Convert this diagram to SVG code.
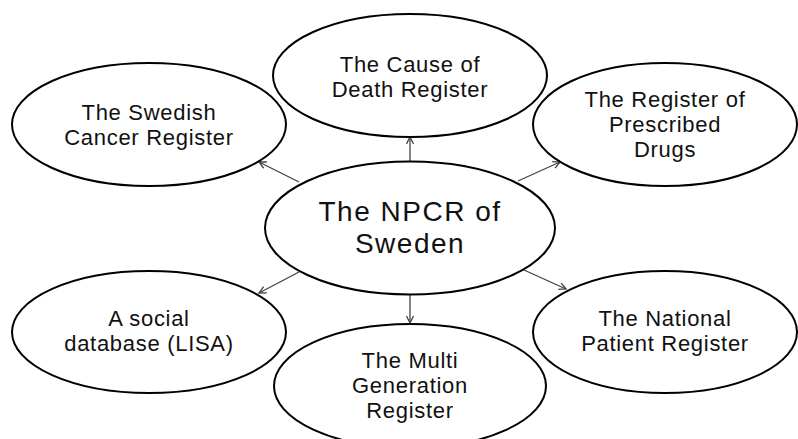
<svg xmlns="http://www.w3.org/2000/svg" width="798" height="439" viewBox="0 0 798 439">
<defs>
<style>
.node ellipse{fill:#fff;stroke:#000;stroke-width:2}
.node text{font-family:"Liberation Sans",Arial,sans-serif;font-size:22px;letter-spacing:0.7px;fill:#111;text-anchor:middle}
.node text.big{font-size:28px;letter-spacing:1.5px}
.conn line{stroke:#444;stroke-width:1.3;fill:none;marker-end:url(#arr)}
</style>
<marker id="arr" markerWidth="10" markerHeight="10" refX="8" refY="4" orient="auto" markerUnits="userSpaceOnUse">
<path d="M1,0.5 L8,4 L1,7.5" fill="none" stroke="#444" stroke-width="1.3"/>
</marker>
</defs>
<rect width="798" height="439" fill="#fff"/>
<g class="conn" id="connectors">
<line x1="299" y1="182" x2="259" y2="162"/>
<line x1="410" y1="162" x2="410" y2="137"/>
<line x1="518" y1="181" x2="560" y2="162"/>
<line x1="299" y1="272" x2="259" y2="293"/>
<line x1="410" y1="295" x2="410" y2="323"/>
<line x1="524" y1="270" x2="566" y2="289"/>
</g>
<g class="node" id="cancer">
<ellipse cx="149" cy="124.5" rx="137" ry="61.5"/>
<text x="149" y="120">The Swedish</text>
<text x="149" y="145">Cancer Register</text>
</g>
<g class="node" id="death">
<ellipse cx="410" cy="75.5" rx="137" ry="61.5"/>
<text x="410" y="72">The Cause of</text>
<text x="410" y="97">Death Register</text>
</g>
<g class="node" id="drugs">
<ellipse cx="665" cy="124.5" rx="132" ry="61.5"/>
<text x="665" y="107">The Register of</text>
<text x="665" y="132">Prescribed</text>
<text x="665" y="157">Drugs</text>
</g>
<g class="node" id="npcr">
<ellipse cx="410" cy="228" rx="145" ry="66.5"/>
<text class="big" x="410" y="221">The NPCR of</text>
<text class="big" x="410" y="253">Sweden</text>
</g>
<g class="node" id="lisa">
<ellipse cx="149" cy="332" rx="137" ry="61"/>
<text x="149" y="326">A social</text>
<text x="149" y="351">database (LISA)</text>
</g>
<g class="node" id="multi">
<ellipse cx="410" cy="386" rx="136" ry="62"/>
<text x="410" y="368">The Multi</text>
<text x="410" y="393">Generation</text>
<text x="410" y="418">Register</text>
</g>
<g class="node" id="patient">
<ellipse cx="665" cy="332" rx="132" ry="61"/>
<text x="665" y="326">The National</text>
<text x="665" y="351">Patient Register</text>
</g>
</svg>
